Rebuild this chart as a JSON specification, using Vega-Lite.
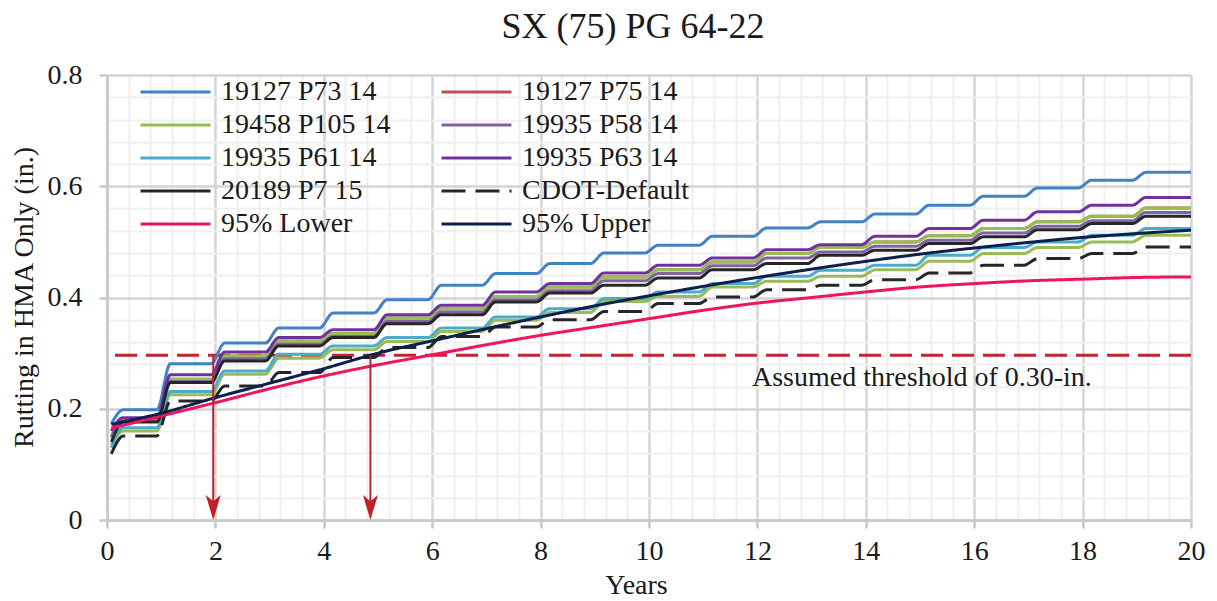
{
"$schema":"https://vega.github.io/schema/vega-lite/v6.json",
"width":1084,"height":445,
"autosize":{"type":"none"},
"padding":{"left":107,"top":75,"right":26,"bottom":81},
"background":"white",
"config":{"view":{"stroke":null},"font":"Liberation Serif"},
"title":{"text":"SX (75) PG 64-22","font":"Liberation Serif","fontSize":36,"fontWeight":"normal","color":"#1a1a1a","anchor":"middle","frame":"group","offset":15,"dx":-16},
"data":{"values":[
{"series":"19127 P75 14","x":0.08,"y":0.148},{"series":"19127 P75 14","x":0.3,"y":0.18},{"series":"19127 P75 14","x":0.92,"y":0.18},{"series":"19127 P75 14","x":1.17,"y":0.253},{"series":"19127 P75 14","x":1.92,"y":0.253},{"series":"19127 P75 14","x":2.17,"y":0.295},{"series":"19127 P75 14","x":2.92,"y":0.295},{"series":"19127 P75 14","x":3.17,"y":0.322},{"series":"19127 P75 14","x":3.92,"y":0.322},{"series":"19127 P75 14","x":4.17,"y":0.335},{"series":"19127 P75 14","x":4.92,"y":0.335},{"series":"19127 P75 14","x":5.17,"y":0.363},{"series":"19127 P75 14","x":5.92,"y":0.363},{"series":"19127 P75 14","x":6.17,"y":0.38},{"series":"19127 P75 14","x":6.92,"y":0.38},{"series":"19127 P75 14","x":7.17,"y":0.402},{"series":"19127 P75 14","x":7.92,"y":0.402},{"series":"19127 P75 14","x":8.17,"y":0.419},{"series":"19127 P75 14","x":8.92,"y":0.419},{"series":"19127 P75 14","x":9.17,"y":0.437},{"series":"19127 P75 14","x":9.92,"y":0.437},{"series":"19127 P75 14","x":10.17,"y":0.45},{"series":"19127 P75 14","x":10.92,"y":0.45},{"series":"19127 P75 14","x":11.17,"y":0.464},{"series":"19127 P75 14","x":11.92,"y":0.464},{"series":"19127 P75 14","x":12.17,"y":0.479},{"series":"19127 P75 14","x":12.92,"y":0.479},{"series":"19127 P75 14","x":13.17,"y":0.49},{"series":"19127 P75 14","x":13.92,"y":0.49},{"series":"19127 P75 14","x":14.17,"y":0.5},{"series":"19127 P75 14","x":14.92,"y":0.5},{"series":"19127 P75 14","x":15.17,"y":0.511},{"series":"19127 P75 14","x":15.92,"y":0.511},{"series":"19127 P75 14","x":16.17,"y":0.524},{"series":"19127 P75 14","x":16.92,"y":0.524},{"series":"19127 P75 14","x":17.17,"y":0.536},{"series":"19127 P75 14","x":17.92,"y":0.536},{"series":"19127 P75 14","x":18.17,"y":0.546},{"series":"19127 P75 14","x":18.92,"y":0.546},{"series":"19127 P75 14","x":19.17,"y":0.561},{"series":"19127 P75 14","x":20,"y":0.561},

{"series":"19458 P105 14 (b)","x":0.08,"y":0.135},{"series":"19458 P105 14 (b)","x":0.3,"y":0.16},{"series":"19458 P105 14 (b)","x":0.92,"y":0.16},{"series":"19458 P105 14 (b)","x":1.17,"y":0.225},{"series":"19458 P105 14 (b)","x":1.92,"y":0.225},{"series":"19458 P105 14 (b)","x":2.17,"y":0.262},{"series":"19458 P105 14 (b)","x":2.92,"y":0.262},{"series":"19458 P105 14 (b)","x":3.17,"y":0.291},{"series":"19458 P105 14 (b)","x":3.92,"y":0.291},{"series":"19458 P105 14 (b)","x":4.17,"y":0.306},{"series":"19458 P105 14 (b)","x":4.92,"y":0.306},{"series":"19458 P105 14 (b)","x":5.17,"y":0.321},{"series":"19458 P105 14 (b)","x":5.92,"y":0.321},{"series":"19458 P105 14 (b)","x":6.17,"y":0.339},{"series":"19458 P105 14 (b)","x":6.92,"y":0.339},{"series":"19458 P105 14 (b)","x":7.17,"y":0.359},{"series":"19458 P105 14 (b)","x":7.92,"y":0.359},{"series":"19458 P105 14 (b)","x":8.17,"y":0.373},{"series":"19458 P105 14 (b)","x":8.92,"y":0.373},{"series":"19458 P105 14 (b)","x":9.17,"y":0.393},{"series":"19458 P105 14 (b)","x":9.92,"y":0.393},{"series":"19458 P105 14 (b)","x":10.17,"y":0.402},{"series":"19458 P105 14 (b)","x":10.92,"y":0.402},{"series":"19458 P105 14 (b)","x":11.17,"y":0.419},{"series":"19458 P105 14 (b)","x":11.92,"y":0.419},{"series":"19458 P105 14 (b)","x":12.17,"y":0.429},{"series":"19458 P105 14 (b)","x":12.92,"y":0.429},{"series":"19458 P105 14 (b)","x":13.17,"y":0.438},{"series":"19458 P105 14 (b)","x":13.92,"y":0.438},{"series":"19458 P105 14 (b)","x":14.17,"y":0.45},{"series":"19458 P105 14 (b)","x":14.92,"y":0.45},{"series":"19458 P105 14 (b)","x":15.17,"y":0.465},{"series":"19458 P105 14 (b)","x":15.92,"y":0.465},{"series":"19458 P105 14 (b)","x":16.17,"y":0.479},{"series":"19458 P105 14 (b)","x":16.92,"y":0.479},{"series":"19458 P105 14 (b)","x":17.17,"y":0.49},{"series":"19458 P105 14 (b)","x":17.92,"y":0.49},{"series":"19458 P105 14 (b)","x":18.17,"y":0.5},{"series":"19458 P105 14 (b)","x":18.92,"y":0.5},{"series":"19458 P105 14 (b)","x":19.17,"y":0.512},{"series":"19458 P105 14 (b)","x":20,"y":0.512},

{"series":"19127 P73 14","x":0.08,"y":0.173},{"series":"19127 P73 14","x":0.3,"y":0.198},{"series":"19127 P73 14","x":0.92,"y":0.198},{"series":"19127 P73 14","x":1.17,"y":0.281},{"series":"19127 P73 14","x":1.92,"y":0.281},{"series":"19127 P73 14","x":2.17,"y":0.318},{"series":"19127 P73 14","x":2.92,"y":0.318},{"series":"19127 P73 14","x":3.17,"y":0.345},{"series":"19127 P73 14","x":3.92,"y":0.345},{"series":"19127 P73 14","x":4.17,"y":0.372},{"series":"19127 P73 14","x":4.92,"y":0.372},{"series":"19127 P73 14","x":5.17,"y":0.396},{"series":"19127 P73 14","x":5.92,"y":0.396},{"series":"19127 P73 14","x":6.17,"y":0.422},{"series":"19127 P73 14","x":6.92,"y":0.422},{"series":"19127 P73 14","x":7.17,"y":0.443},{"series":"19127 P73 14","x":7.92,"y":0.443},{"series":"19127 P73 14","x":8.17,"y":0.461},{"series":"19127 P73 14","x":8.92,"y":0.461},{"series":"19127 P73 14","x":9.17,"y":0.48},{"series":"19127 P73 14","x":9.92,"y":0.48},{"series":"19127 P73 14","x":10.17,"y":0.494},{"series":"19127 P73 14","x":10.92,"y":0.494},{"series":"19127 P73 14","x":11.17,"y":0.51},{"series":"19127 P73 14","x":11.92,"y":0.51},{"series":"19127 P73 14","x":12.17,"y":0.525},{"series":"19127 P73 14","x":12.92,"y":0.525},{"series":"19127 P73 14","x":13.17,"y":0.536},{"series":"19127 P73 14","x":13.92,"y":0.536},{"series":"19127 P73 14","x":14.17,"y":0.55},{"series":"19127 P73 14","x":14.92,"y":0.55},{"series":"19127 P73 14","x":15.17,"y":0.566},{"series":"19127 P73 14","x":15.92,"y":0.566},{"series":"19127 P73 14","x":16.17,"y":0.582},{"series":"19127 P73 14","x":16.92,"y":0.582},{"series":"19127 P73 14","x":17.17,"y":0.597},{"series":"19127 P73 14","x":17.92,"y":0.597},{"series":"19127 P73 14","x":18.17,"y":0.611},{"series":"19127 P73 14","x":18.92,"y":0.611},{"series":"19127 P73 14","x":19.17,"y":0.625},{"series":"19127 P73 14","x":20,"y":0.625},

{"series":"19458 P105 14","x":0.08,"y":0.148},{"series":"19458 P105 14","x":0.3,"y":0.18},{"series":"19458 P105 14","x":0.92,"y":0.18},{"series":"19458 P105 14","x":1.17,"y":0.253},{"series":"19458 P105 14","x":1.92,"y":0.253},{"series":"19458 P105 14","x":2.17,"y":0.295},{"series":"19458 P105 14","x":2.92,"y":0.295},{"series":"19458 P105 14","x":3.17,"y":0.322},{"series":"19458 P105 14","x":3.92,"y":0.322},{"series":"19458 P105 14","x":4.17,"y":0.335},{"series":"19458 P105 14","x":4.92,"y":0.335},{"series":"19458 P105 14","x":5.17,"y":0.363},{"series":"19458 P105 14","x":5.92,"y":0.363},{"series":"19458 P105 14","x":6.17,"y":0.38},{"series":"19458 P105 14","x":6.92,"y":0.38},{"series":"19458 P105 14","x":7.17,"y":0.402},{"series":"19458 P105 14","x":7.92,"y":0.402},{"series":"19458 P105 14","x":8.17,"y":0.419},{"series":"19458 P105 14","x":8.92,"y":0.419},{"series":"19458 P105 14","x":9.17,"y":0.437},{"series":"19458 P105 14","x":9.92,"y":0.437},{"series":"19458 P105 14","x":10.17,"y":0.45},{"series":"19458 P105 14","x":10.92,"y":0.45},{"series":"19458 P105 14","x":11.17,"y":0.464},{"series":"19458 P105 14","x":11.92,"y":0.464},{"series":"19458 P105 14","x":12.17,"y":0.479},{"series":"19458 P105 14","x":12.92,"y":0.479},{"series":"19458 P105 14","x":13.17,"y":0.49},{"series":"19458 P105 14","x":13.92,"y":0.49},{"series":"19458 P105 14","x":14.17,"y":0.5},{"series":"19458 P105 14","x":14.92,"y":0.5},{"series":"19458 P105 14","x":15.17,"y":0.511},{"series":"19458 P105 14","x":15.92,"y":0.511},{"series":"19458 P105 14","x":16.17,"y":0.524},{"series":"19458 P105 14","x":16.92,"y":0.524},{"series":"19458 P105 14","x":17.17,"y":0.536},{"series":"19458 P105 14","x":17.92,"y":0.536},{"series":"19458 P105 14","x":18.17,"y":0.546},{"series":"19458 P105 14","x":18.92,"y":0.546},{"series":"19458 P105 14","x":19.17,"y":0.561},{"series":"19458 P105 14","x":20,"y":0.561},

{"series":"19935 P58 14","x":0.08,"y":0.15},{"series":"19935 P58 14","x":0.3,"y":0.178},{"series":"19935 P58 14","x":0.92,"y":0.178},{"series":"19935 P58 14","x":1.17,"y":0.249},{"series":"19935 P58 14","x":1.92,"y":0.249},{"series":"19935 P58 14","x":2.17,"y":0.29},{"series":"19935 P58 14","x":2.92,"y":0.29},{"series":"19935 P58 14","x":3.17,"y":0.316},{"series":"19935 P58 14","x":3.92,"y":0.316},{"series":"19935 P58 14","x":4.17,"y":0.33},{"series":"19935 P58 14","x":4.92,"y":0.33},{"series":"19935 P58 14","x":5.17,"y":0.357},{"series":"19935 P58 14","x":5.92,"y":0.357},{"series":"19935 P58 14","x":6.17,"y":0.374},{"series":"19935 P58 14","x":6.92,"y":0.374},{"series":"19935 P58 14","x":7.17,"y":0.396},{"series":"19935 P58 14","x":7.92,"y":0.396},{"series":"19935 P58 14","x":8.17,"y":0.412},{"series":"19935 P58 14","x":8.92,"y":0.412},{"series":"19935 P58 14","x":9.17,"y":0.43},{"series":"19935 P58 14","x":9.92,"y":0.43},{"series":"19935 P58 14","x":10.17,"y":0.443},{"series":"19935 P58 14","x":10.92,"y":0.443},{"series":"19935 P58 14","x":11.17,"y":0.457},{"series":"19935 P58 14","x":11.92,"y":0.457},{"series":"19935 P58 14","x":12.17,"y":0.471},{"series":"19935 P58 14","x":12.92,"y":0.471},{"series":"19935 P58 14","x":13.17,"y":0.482},{"series":"19935 P58 14","x":13.92,"y":0.482},{"series":"19935 P58 14","x":14.17,"y":0.492},{"series":"19935 P58 14","x":14.92,"y":0.492},{"series":"19935 P58 14","x":15.17,"y":0.503},{"series":"19935 P58 14","x":15.92,"y":0.503},{"series":"19935 P58 14","x":16.17,"y":0.516},{"series":"19935 P58 14","x":16.92,"y":0.516},{"series":"19935 P58 14","x":17.17,"y":0.528},{"series":"19935 P58 14","x":17.92,"y":0.528},{"series":"19935 P58 14","x":18.17,"y":0.538},{"series":"19935 P58 14","x":18.92,"y":0.538},{"series":"19935 P58 14","x":19.17,"y":0.553},{"series":"19935 P58 14","x":20,"y":0.553},

{"series":"19935 P61 14","x":0.08,"y":0.13},{"series":"19935 P61 14","x":0.3,"y":0.166},{"series":"19935 P61 14","x":0.92,"y":0.166},{"series":"19935 P61 14","x":1.17,"y":0.231},{"series":"19935 P61 14","x":1.92,"y":0.231},{"series":"19935 P61 14","x":2.17,"y":0.268},{"series":"19935 P61 14","x":2.92,"y":0.268},{"series":"19935 P61 14","x":3.17,"y":0.298},{"series":"19935 P61 14","x":3.92,"y":0.298},{"series":"19935 P61 14","x":4.17,"y":0.313},{"series":"19935 P61 14","x":4.92,"y":0.313},{"series":"19935 P61 14","x":5.17,"y":0.328},{"series":"19935 P61 14","x":5.92,"y":0.328},{"series":"19935 P61 14","x":6.17,"y":0.345},{"series":"19935 P61 14","x":6.92,"y":0.345},{"series":"19935 P61 14","x":7.17,"y":0.365},{"series":"19935 P61 14","x":7.92,"y":0.365},{"series":"19935 P61 14","x":8.17,"y":0.38},{"series":"19935 P61 14","x":8.92,"y":0.38},{"series":"19935 P61 14","x":9.17,"y":0.398},{"series":"19935 P61 14","x":9.92,"y":0.398},{"series":"19935 P61 14","x":10.17,"y":0.41},{"series":"19935 P61 14","x":10.92,"y":0.41},{"series":"19935 P61 14","x":11.17,"y":0.425},{"series":"19935 P61 14","x":11.92,"y":0.425},{"series":"19935 P61 14","x":12.17,"y":0.438},{"series":"19935 P61 14","x":12.92,"y":0.438},{"series":"19935 P61 14","x":13.17,"y":0.449},{"series":"19935 P61 14","x":13.92,"y":0.449},{"series":"19935 P61 14","x":14.17,"y":0.458},{"series":"19935 P61 14","x":14.92,"y":0.458},{"series":"19935 P61 14","x":15.17,"y":0.476},{"series":"19935 P61 14","x":15.92,"y":0.476},{"series":"19935 P61 14","x":16.17,"y":0.49},{"series":"19935 P61 14","x":16.92,"y":0.49},{"series":"19935 P61 14","x":17.17,"y":0.5},{"series":"19935 P61 14","x":17.92,"y":0.5},{"series":"19935 P61 14","x":18.17,"y":0.512},{"series":"19935 P61 14","x":18.92,"y":0.512},{"series":"19935 P61 14","x":19.17,"y":0.524},{"series":"19935 P61 14","x":20,"y":0.524},

{"series":"19935 P63 14","x":0.08,"y":0.16},{"series":"19935 P63 14","x":0.3,"y":0.184},{"series":"19935 P63 14","x":0.92,"y":0.184},{"series":"19935 P63 14","x":1.17,"y":0.261},{"series":"19935 P63 14","x":1.92,"y":0.261},{"series":"19935 P63 14","x":2.17,"y":0.302},{"series":"19935 P63 14","x":2.92,"y":0.302},{"series":"19935 P63 14","x":3.17,"y":0.328},{"series":"19935 P63 14","x":3.92,"y":0.328},{"series":"19935 P63 14","x":4.17,"y":0.342},{"series":"19935 P63 14","x":4.92,"y":0.342},{"series":"19935 P63 14","x":5.17,"y":0.369},{"series":"19935 P63 14","x":5.92,"y":0.369},{"series":"19935 P63 14","x":6.17,"y":0.386},{"series":"19935 P63 14","x":6.92,"y":0.386},{"series":"19935 P63 14","x":7.17,"y":0.41},{"series":"19935 P63 14","x":7.92,"y":0.41},{"series":"19935 P63 14","x":8.17,"y":0.425},{"series":"19935 P63 14","x":8.92,"y":0.425},{"series":"19935 P63 14","x":9.17,"y":0.444},{"series":"19935 P63 14","x":9.92,"y":0.444},{"series":"19935 P63 14","x":10.17,"y":0.458},{"series":"19935 P63 14","x":10.92,"y":0.458},{"series":"19935 P63 14","x":11.17,"y":0.471},{"series":"19935 P63 14","x":11.92,"y":0.471},{"series":"19935 P63 14","x":12.17,"y":0.486},{"series":"19935 P63 14","x":12.92,"y":0.486},{"series":"19935 P63 14","x":13.17,"y":0.495},{"series":"19935 P63 14","x":13.92,"y":0.495},{"series":"19935 P63 14","x":14.17,"y":0.51},{"series":"19935 P63 14","x":14.92,"y":0.51},{"series":"19935 P63 14","x":15.17,"y":0.524},{"series":"19935 P63 14","x":15.92,"y":0.524},{"series":"19935 P63 14","x":16.17,"y":0.539},{"series":"19935 P63 14","x":16.92,"y":0.539},{"series":"19935 P63 14","x":17.17,"y":0.554},{"series":"19935 P63 14","x":17.92,"y":0.554},{"series":"19935 P63 14","x":18.17,"y":0.566},{"series":"19935 P63 14","x":18.92,"y":0.566},{"series":"19935 P63 14","x":19.17,"y":0.58},{"series":"19935 P63 14","x":20,"y":0.58},

{"series":"20189 P7 15","x":0.08,"y":0.14},{"series":"20189 P7 15","x":0.3,"y":0.176},{"series":"20189 P7 15","x":0.92,"y":0.176},{"series":"20189 P7 15","x":1.17,"y":0.247},{"series":"20189 P7 15","x":1.92,"y":0.247},{"series":"20189 P7 15","x":2.17,"y":0.286},{"series":"20189 P7 15","x":2.92,"y":0.286},{"series":"20189 P7 15","x":3.17,"y":0.313},{"series":"20189 P7 15","x":3.92,"y":0.313},{"series":"20189 P7 15","x":4.17,"y":0.328},{"series":"20189 P7 15","x":4.92,"y":0.328},{"series":"20189 P7 15","x":5.17,"y":0.353},{"series":"20189 P7 15","x":5.92,"y":0.353},{"series":"20189 P7 15","x":6.17,"y":0.369},{"series":"20189 P7 15","x":6.92,"y":0.369},{"series":"20189 P7 15","x":7.17,"y":0.392},{"series":"20189 P7 15","x":7.92,"y":0.392},{"series":"20189 P7 15","x":8.17,"y":0.408},{"series":"20189 P7 15","x":8.92,"y":0.408},{"series":"20189 P7 15","x":9.17,"y":0.422},{"series":"20189 P7 15","x":9.92,"y":0.422},{"series":"20189 P7 15","x":10.17,"y":0.435},{"series":"20189 P7 15","x":10.92,"y":0.435},{"series":"20189 P7 15","x":11.17,"y":0.45},{"series":"20189 P7 15","x":11.92,"y":0.45},{"series":"20189 P7 15","x":12.17,"y":0.461},{"series":"20189 P7 15","x":12.92,"y":0.461},{"series":"20189 P7 15","x":13.17,"y":0.476},{"series":"20189 P7 15","x":13.92,"y":0.476},{"series":"20189 P7 15","x":14.17,"y":0.485},{"series":"20189 P7 15","x":14.92,"y":0.485},{"series":"20189 P7 15","x":15.17,"y":0.497},{"series":"20189 P7 15","x":15.92,"y":0.497},{"series":"20189 P7 15","x":16.17,"y":0.509},{"series":"20189 P7 15","x":16.92,"y":0.509},{"series":"20189 P7 15","x":17.17,"y":0.522},{"series":"20189 P7 15","x":17.92,"y":0.522},{"series":"20189 P7 15","x":18.17,"y":0.533},{"series":"20189 P7 15","x":18.92,"y":0.533},{"series":"20189 P7 15","x":19.17,"y":0.546},{"series":"20189 P7 15","x":20,"y":0.546},

{"series":"CDOT-Default","x":0.08,"y":0.119},{"series":"CDOT-Default","x":0.3,"y":0.151},{"series":"CDOT-Default","x":0.92,"y":0.151},{"series":"CDOT-Default","x":1.17,"y":0.214},{"series":"CDOT-Default","x":1.92,"y":0.214},{"series":"CDOT-Default","x":2.17,"y":0.241},{"series":"CDOT-Default","x":2.92,"y":0.241},{"series":"CDOT-Default","x":3.17,"y":0.265},{"series":"CDOT-Default","x":3.92,"y":0.265},{"series":"CDOT-Default","x":4.17,"y":0.292},{"series":"CDOT-Default","x":4.92,"y":0.292},{"series":"CDOT-Default","x":5.17,"y":0.31},{"series":"CDOT-Default","x":5.92,"y":0.31},{"series":"CDOT-Default","x":6.17,"y":0.33},{"series":"CDOT-Default","x":6.92,"y":0.33},{"series":"CDOT-Default","x":7.17,"y":0.347},{"series":"CDOT-Default","x":7.92,"y":0.347},{"series":"CDOT-Default","x":8.17,"y":0.36},{"series":"CDOT-Default","x":8.92,"y":0.36},{"series":"CDOT-Default","x":9.17,"y":0.375},{"series":"CDOT-Default","x":9.92,"y":0.375},{"series":"CDOT-Default","x":10.17,"y":0.389},{"series":"CDOT-Default","x":10.92,"y":0.389},{"series":"CDOT-Default","x":11.17,"y":0.401},{"series":"CDOT-Default","x":11.92,"y":0.401},{"series":"CDOT-Default","x":12.17,"y":0.414},{"series":"CDOT-Default","x":12.92,"y":0.414},{"series":"CDOT-Default","x":13.17,"y":0.422},{"series":"CDOT-Default","x":13.92,"y":0.422},{"series":"CDOT-Default","x":14.17,"y":0.432},{"series":"CDOT-Default","x":14.92,"y":0.432},{"series":"CDOT-Default","x":15.17,"y":0.444},{"series":"CDOT-Default","x":15.92,"y":0.444},{"series":"CDOT-Default","x":16.17,"y":0.458},{"series":"CDOT-Default","x":16.92,"y":0.458},{"series":"CDOT-Default","x":17.17,"y":0.47},{"series":"CDOT-Default","x":17.92,"y":0.47},{"series":"CDOT-Default","x":18.17,"y":0.479},{"series":"CDOT-Default","x":18.92,"y":0.479},{"series":"CDOT-Default","x":19.17,"y":0.491},{"series":"CDOT-Default","x":20,"y":0.491},

{"series":"95% Lower","x":0.08,"y":0.165},{"series":"95% Lower","x":1,"y":0.187},{"series":"95% Lower","x":2,"y":0.211},{"series":"95% Lower","x":3,"y":0.236},{"series":"95% Lower","x":4,"y":0.259},{"series":"95% Lower","x":5,"y":0.279},{"series":"95% Lower","x":6,"y":0.297},{"series":"95% Lower","x":7,"y":0.315},{"series":"95% Lower","x":8,"y":0.332},{"series":"95% Lower","x":9,"y":0.347},{"series":"95% Lower","x":10,"y":0.362},{"series":"95% Lower","x":11,"y":0.377},{"series":"95% Lower","x":12,"y":0.39},{"series":"95% Lower","x":13,"y":0.4},{"series":"95% Lower","x":14,"y":0.41},{"series":"95% Lower","x":15,"y":0.419},{"series":"95% Lower","x":16,"y":0.425},{"series":"95% Lower","x":17,"y":0.43},{"series":"95% Lower","x":18,"y":0.433},{"series":"95% Lower","x":19,"y":0.436},{"series":"95% Lower","x":20,"y":0.437},

{"series":"95% Upper","x":0.08,"y":0.172},{"series":"95% Upper","x":1,"y":0.192},{"series":"95% Upper","x":2,"y":0.22},{"series":"95% Upper","x":3,"y":0.246},{"series":"95% Upper","x":4,"y":0.272},{"series":"95% Upper","x":5,"y":0.3},{"series":"95% Upper","x":6,"y":0.322},{"series":"95% Upper","x":7,"y":0.344},{"series":"95% Upper","x":8,"y":0.365},{"series":"95% Upper","x":9,"y":0.385},{"series":"95% Upper","x":10,"y":0.403},{"series":"95% Upper","x":11,"y":0.42},{"series":"95% Upper","x":12,"y":0.436},{"series":"95% Upper","x":13,"y":0.451},{"series":"95% Upper","x":14,"y":0.465},{"series":"95% Upper","x":15,"y":0.478},{"series":"95% Upper","x":16,"y":0.489},{"series":"95% Upper","x":17,"y":0.499},{"series":"95% Upper","x":18,"y":0.508},{"series":"95% Upper","x":19,"y":0.515},{"series":"95% Upper","x":20,"y":0.521}
]},
"layer":[
{"data":{"values":[{"y":0.296}]},
 "mark":{"type":"rule","color":"#c0262d","strokeWidth":3,"strokeDash":[22,9]},
 "encoding":{"y":{"field":"y","type":"quantitative"}}},
{"transform":[{"filter":{"field":"series","equal":"19127 P75 14"}}],
 "mark":{"type":"line","interpolate":"monotone","strokeWidth":3},
 "encoding":{
  "x":{"field":"x","type":"quantitative","scale":{"domain":[0,20],"nice":false,"zero":false},
   "axis":{"title":"Years","tickCount":200,"values":[0,0.4,0.8,1.2,1.6,2,2.4,2.8,3.2,3.6,4,4.4,4.8,5.2,5.6,6,6.4,6.8,7.2,7.6,8,8.4,8.8,9.2,9.6,10,10.4,10.8,11.2,11.6,12,12.4,12.8,13.2,13.6,14,14.4,14.8,15.2,15.6,16,16.4,16.8,17.2,17.6,18,18.4,18.8,19.2,19.6,20],
    "labelExpr":"datum.value % 2 == 0 ? format(datum.value,'d') : ''",
    "labelOverlap":false,"labelFlush":false,"labelBound":false,
    "grid":true,
    "gridColor":{"condition":{"test":"datum.value % 2 == 0","value":"#d4d4d4"},"value":"#efefef"},
    "gridWidth":{"condition":{"test":"datum.value % 2 == 0","value":2.5},"value":2},
    "tickOpacity":{"condition":{"test":"datum.value % 2 == 0","value":1},"value":0},
    "tickSize":8,"tickWidth":2.5,"tickColor":"#c8c8c8","domainColor":"#c8c8c8","domainWidth":2.5,
    "labelFont":"Liberation Serif","labelFontSize":28,"labelColor":"#1a1a1a","labelPadding":9,
    "titleFont":"Liberation Serif","titleFontSize":28,"titleFontWeight":"normal","titleColor":"#1a1a1a",
    "titleX":529,"titleY":73,"titleBaseline":"alphabetic"}},
  "y":{"field":"y","type":"quantitative","scale":{"domain":[0,0.8],"nice":false},
   "axis":{"title":"Rutting in HMA Only (in.)","tickCount":200,"values":[0,0.04,0.08,0.12,0.16,0.2,0.24,0.28,0.32,0.36,0.4,0.44,0.48,0.52,0.56,0.6,0.64,0.68,0.72,0.76,0.8],
    "labelExpr":"indexof([0,0.2,0.4,0.6,0.8], datum.value) >= 0 ? (datum.value == 0 ? '0' : format(datum.value,'.1f')) : ''",
    "labelOverlap":false,"labelFlush":false,"labelBound":false,
    "grid":true,
    "gridColor":{"condition":{"test":"indexof([0,0.2,0.4,0.6,0.8], datum.value) >= 0","value":"#d4d4d4"},"value":"#efefef"},
    "gridWidth":{"condition":{"test":"indexof([0,0.2,0.4,0.6,0.8], datum.value) >= 0","value":2.5},"value":2},
    "tickOpacity":{"condition":{"test":"indexof([0,0.2,0.4,0.6,0.8], datum.value) >= 0","value":1},"value":0},
    "tickSize":8,"tickWidth":2.5,"tickColor":"#c8c8c8","domainColor":"#c8c8c8","domainWidth":2.5,
    "labelFont":"Liberation Serif","labelFontSize":28,"labelColor":"#1a1a1a","labelPadding":17,
    "titleFont":"Liberation Serif","titleFontSize":28,"titleFontWeight":"normal","titleColor":"#1a1a1a",
    "titleX":-75,"titleY":222,"titleBaseline":"alphabetic","titleAngle":-90}},
  "color":{"field":"series","type":"nominal",
   "scale":{"domain":["19127 P73 14","19127 P75 14","19458 P105 14","19935 P58 14","19935 P61 14","19935 P63 14","20189 P7 15","CDOT-Default","95% Lower","95% Upper"],
    "range":["#4181c4","#c0504d","#93c04e","#8064a2","#4bacc6","#7030a0","#262626","#262626","#f0145a","#0c1f4f"]},
   "legend":{"title":null,"orient":"none","direction":"horizontal","legendX":32,"legendY":3,"columns":2,"columnPadding":49,"rowPadding":5,"clipHeight":28,"symbolType":"stroke","symbolSize":4900,"symbolStrokeWidth":3,"labelFont":"Liberation Serif","labelFontSize":28,"labelColor":"#1a1a1a","labelOffset":9,"labelLimit":400,"padding":0}},
  "strokeDash":{"field":"series","type":"nominal",
   "scale":{"domain":["19127 P73 14","19127 P75 14","19458 P105 14","19935 P58 14","19935 P61 14","19935 P63 14","20189 P7 15","CDOT-Default","95% Lower","95% Upper"],
    "range":[[1,0],[1,0],[1,0],[1,0],[1,0],[1,0],[1,0],[24,10],[1,0],[1,0]]},
   "legend":{"title":null,"orient":"none","direction":"horizontal","legendX":32,"legendY":3,"columns":2,"columnPadding":49,"rowPadding":5,"clipHeight":28,"symbolType":"stroke","symbolSize":4900,"symbolStrokeWidth":3,"labelFont":"Liberation Serif","labelFontSize":28,"labelColor":"#1a1a1a","labelOffset":9,"labelLimit":400,"padding":0}}
 }},
{"transform":[{"filter":{"field":"series","equal":"19458 P105 14 (b)"}}],
 "mark":{"type":"line","interpolate":"monotone","strokeWidth":3,"color":"#9bbb59"},
 "encoding":{"x":{"field":"x","type":"quantitative"},"y":{"field":"y","type":"quantitative"}}},
{"transform":[{"filter":{"field":"series","oneOf":["19127 P73 14","19458 P105 14","19935 P58 14","19935 P61 14","19935 P63 14","20189 P7 15","CDOT-Default","95% Lower","95% Upper"]}}],
 "mark":{"type":"line","interpolate":"monotone","strokeWidth":3},
 "encoding":{"x":{"field":"x","type":"quantitative"},"y":{"field":"y","type":"quantitative"},
  "color":{"field":"series","type":"nominal"},"strokeDash":{"field":"series","type":"nominal"}}},
{"data":{"values":[{"x":1.96,"y":0.296,"y2":0.02},{"x":4.86,"y":0.296,"y2":0.02}]},
 "mark":{"type":"rule","color":"#c0202a","strokeWidth":2},
 "encoding":{"x":{"field":"x","type":"quantitative"},"y":{"field":"y","type":"quantitative"},"y2":{"field":"y2"}}},
{"data":{"values":[{"x":1.96,"y":0},{"x":4.86,"y":0}]},
 "mark":{"type":"point","shape":"M-0.6,-1L0,1L0.6,-1L0,-0.5Z","size":625,"filled":true,"color":"#c0202a","opacity":1,"yOffset":-12.5},
 "encoding":{"x":{"field":"x","type":"quantitative"},"y":{"field":"y","type":"quantitative"}}},
{"data":{"values":[{"x":11.9,"y":0.241,"label":"Assumed threshold of 0.30-in."}]},
 "mark":{"type":"text","align":"left","baseline":"alphabetic","font":"Liberation Serif","fontSize":28,"color":"#1a1a1a"},
 "encoding":{"x":{"field":"x","type":"quantitative"},"y":{"field":"y","type":"quantitative"},"text":{"field":"label"}}}
]
}
